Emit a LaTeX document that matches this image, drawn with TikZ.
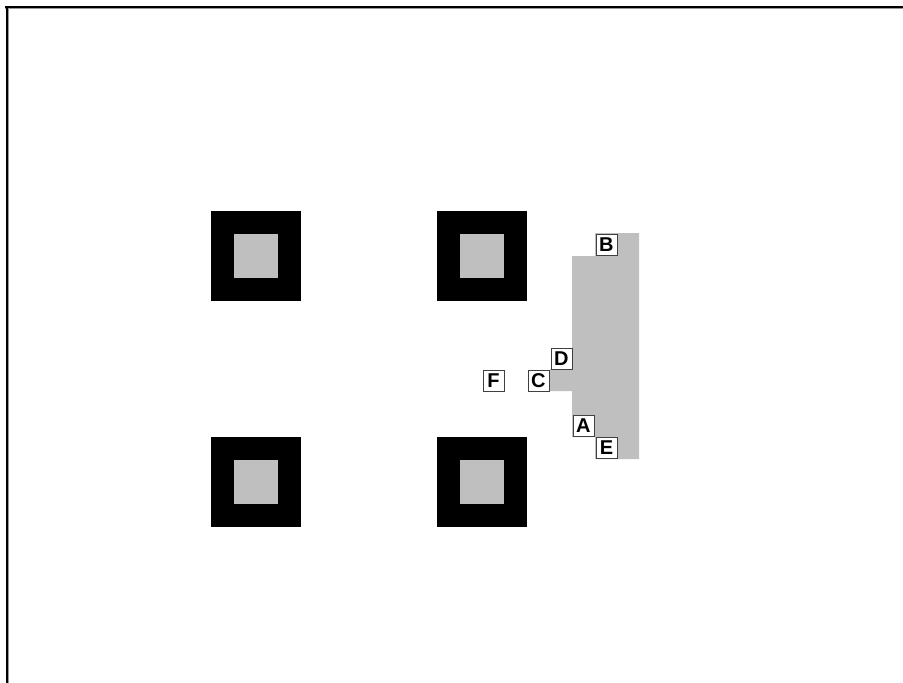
\documentclass[tikz,border=0pt]{standalone}
\usepackage{fontspec}
\setmainfont{Liberation Sans}
\begin{document}
\begin{tikzpicture}[x=1pt,y=-1pt,
  outer/.style={fill=black},
  inner/.style={fill=black!25},
  lbl/.style={draw=black!75,line width=0.9pt,fill=white,minimum width=21pt,minimum height=21pt,inner sep=0pt,font=\fontsize{20}{20}\selectfont\bfseries,anchor=north west}]
\useasboundingbox (0,0) rectangle (903,683);
% frame
\draw[black!40,line width=1pt] (5,8.5) -- (903,8.5);
\draw[black!40,line width=1pt] (8.5,8) -- (8.5,683);
\draw[black,line width=2pt] (5,6.5) -- (903,6.5);
\draw[black,line width=2pt] (6.5,5.5) -- (6.5,683);
% squares
\foreach \x/\y in {211/211,437/211,211/437,437/437}{
  \fill[outer] (\x,\y) rectangle ++(90,90);
  \fill[inner] (\x+23,\y+23) rectangle ++(44,44);
}
% grey polygon
\fill[black!25] (595,233) -- (639,233) -- (639,459) -- (595,459) -- (595,437) -- (572,437)
  -- (572,391) -- (550,391) -- (550,369) -- (572,369) -- (572,256) -- (595,256) -- cycle;
% labels
\node[lbl] (B) at (595.5,234) {B};
\node[lbl] (D) at (550.5,347.5) {D};
\node[lbl] (C) at (527.5,369.5) {C};
\node[lbl] (F) at (482.5,369.5) {F};
\node[lbl] (A) at (572.5,414.5) {A};
\node[lbl] (E) at (595.5,437) {E};
\end{tikzpicture}
\end{document}
